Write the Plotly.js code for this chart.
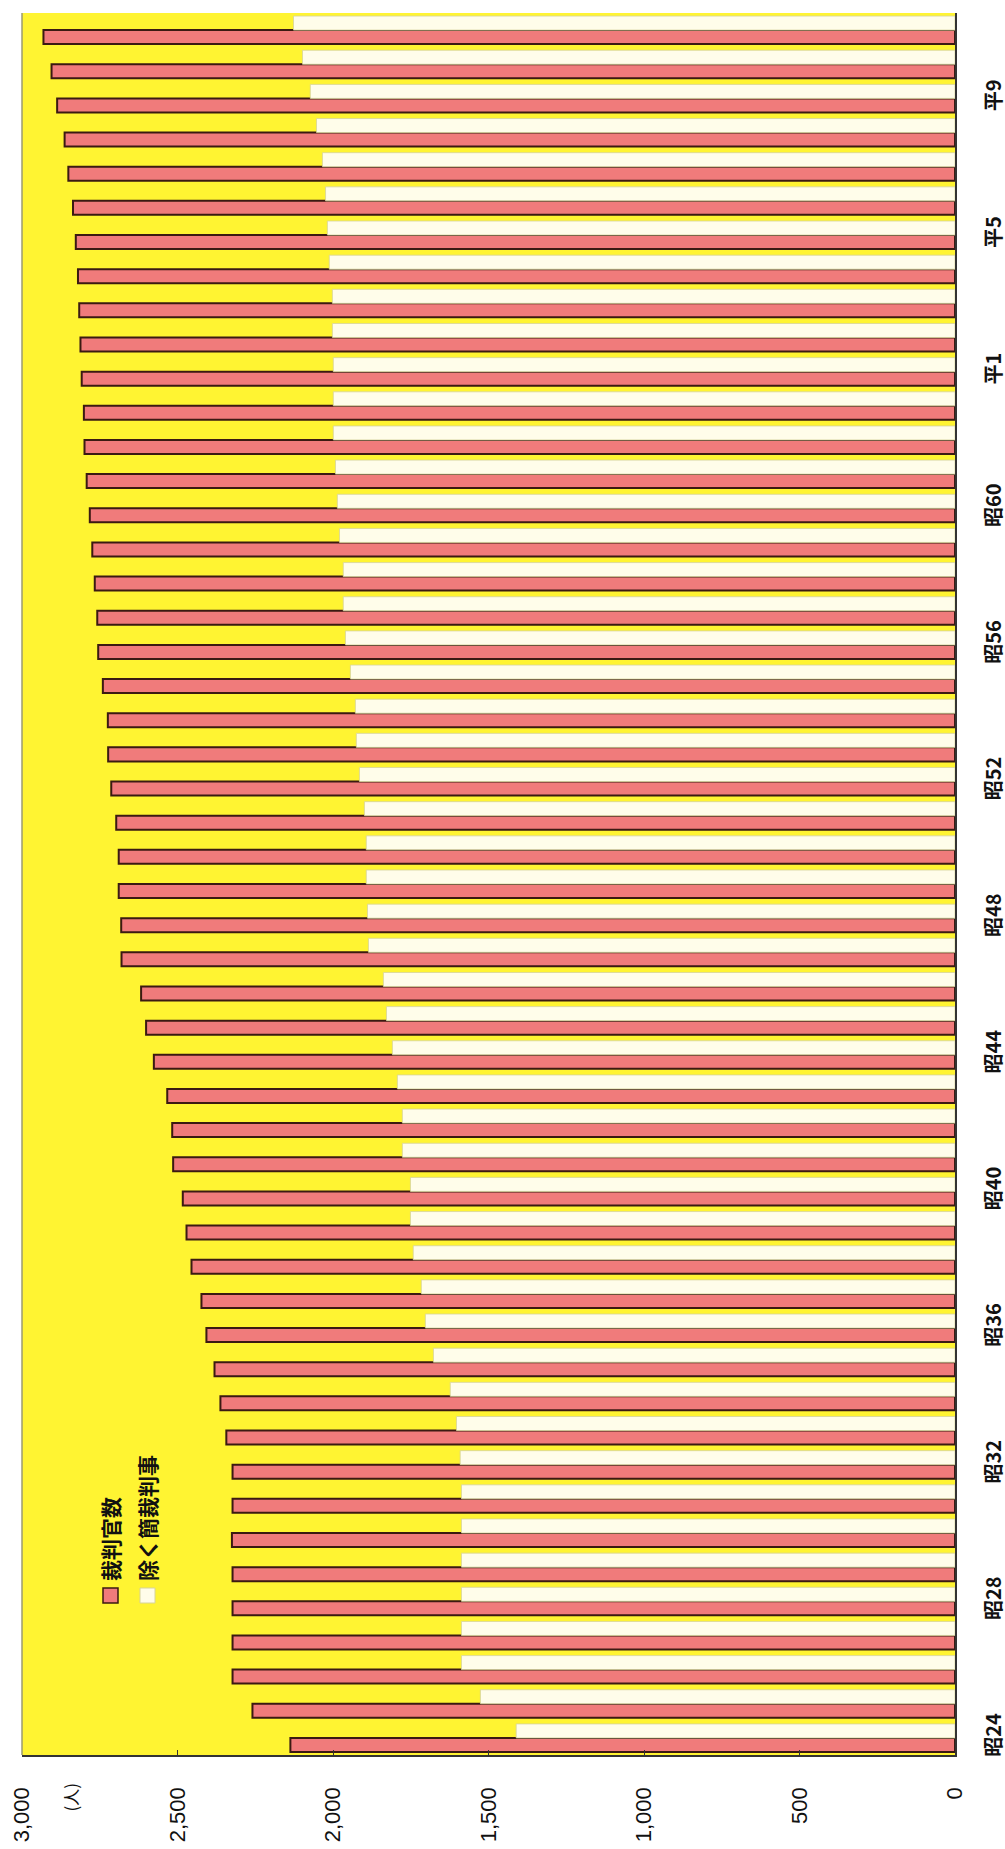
<!DOCTYPE html>
<html>
<head>
<meta charset="utf-8">
<script src="https://cdn.plot.ly/plotly-3.0.1.min.js"></script>
<style>html,body{margin:0;padding:0;background:#fff;}#chart{width:1005px;height:1849px;}</style>
</head>
<body>
<div id="chart"></div>
<script>
const categories = ['昭24','昭25','昭26','昭27','昭28','昭29','昭30','昭31','昭32','昭33','昭34','昭35','昭36','昭37','昭38','昭39','昭40','昭41','昭42','昭43','昭44','昭45','昭46','昭47','昭48','昭49','昭50','昭51','昭52','昭53','昭54','昭55','昭56','昭57','昭58','昭59','昭60','昭61','昭62','昭63','平1','平2','平3','平4','平5','平6','平7','平8','平9','平10','平11'];
const judgesTotal = [2137,2259,2323,2323,2323,2323,2325,2323,2323,2343,2362,2381,2407,2423,2455,2471,2483,2514,2517,2533,2576,2601,2617,2680,2681,2689,2689,2697,2713,2723,2724,2740,2755,2758,2766,2774,2782,2792,2799,2801,2808,2812,2816,2820,2827,2836,2851,2863,2887,2905,2931];
const judgesExclSummary = [1411,1526,1587,1587,1587,1587,1587,1587,1591,1603,1623,1677,1703,1716,1742,1751,1751,1777,1777,1793,1809,1828,1838,1886,1889,1893,1893,1899,1915,1925,1928,1944,1960,1967,1967,1979,1986,1992,1999,1999,1999,2002,2002,2012,2018,2024,2034,2053,2073,2098,2127];
const categoryTicks = ['昭24','昭28','昭32','昭36','昭40','昭44','昭48','昭52','昭56','昭60','平1','平5','平9'];
const valueTicks = [0,500,1000,1500,2000,2500,3000];
const seriesNames = ['裁判官数','除く簡裁判事'];
const unitLabel = '(人)';

const JP = '"Noto Sans CJK JP", "Noto Sans", sans-serif';
const traces = [
  {type:'bar', orientation:'h', name:seriesNames[0], y:categories, x:judgesTotal,
   marker:{color:'#f07b7b', line:{color:'#3b1a12', width:2}}},
  {type:'bar', orientation:'h', name:seriesNames[1], y:categories, x:judgesExclSummary,
   marker:{color:'#fffdea', line:{color:'#d6d39a', width:0.8}}}
];

const W=933, H=1742, L=22, T=13;
function px(x){return (x-L)/W;}
function py(y){return (T+H-y)/H;}

const layout = {
  width:1005, height:1849,
  margin:{l:L, r:50, t:T, b:94, pad:0},
  paper_bgcolor:'#ffffff',
  plot_bgcolor:'#fff432',
  barmode:'group', bargap:0.18, bargroupgap:0,
  showlegend:false,
  xaxis:{range:[3000,0], tickvals:valueTicks, tickformat:',d', tickangle:-90,
    ticks:'inside', ticklen:5, tickcolor:'#333', showgrid:false, zeroline:false,
    showline:true, linecolor:'#333', linewidth:1.5, ticklabelstandoff:22,
    tickfont:{family:'"Liberation Sans", Arial, sans-serif', size:22, color:'#111'}},
  yaxis:{type:'category', categoryorder:'array', categoryarray:categories, side:'right',
    tickvals:categoryTicks, ticktext:categoryTicks, tickangle:-90, ticks:'',
    showgrid:false, zeroline:false, showline:true, linecolor:'#333', linewidth:1.5,
    ticklabelstandoff:20,
    tickfont:{family:JP, size:20, color:'#111', weight:'bold'}},
  shapes:[
    {type:'rect', xref:'paper', yref:'paper', x0:0, x1:0, y0:0, y1:1, line:{color:'#9a9a70', width:1}},
    {type:'rect', xref:'paper', yref:'paper', x0:px(103), x1:px(118), y0:py(1603), y1:py(1588), fillcolor:'#f07b7b', line:{color:'#3b1a12', width:1.5}},
    {type:'rect', xref:'paper', yref:'paper', x0:px(140), x1:px(155), y0:py(1603), y1:py(1588), fillcolor:'#fffdea', line:{color:'#d6d39a', width:1}}
  ],
  annotations:[
    {xref:'paper', yref:'paper', x:px(110), y:py(1583), xanchor:'center', yanchor:'bottom', showarrow:false, textangle:-90,
     text:seriesNames[0], font:{family:JP, size:21, color:'#111', weight:'bold'}},
    {xref:'paper', yref:'paper', x:px(147), y:py(1583), xanchor:'center', yanchor:'bottom', showarrow:false, textangle:-90,
     text:seriesNames[1], font:{family:JP, size:21, color:'#111', weight:'bold'}},
    {xref:'paper', yref:'paper', x:px(70), y:py(1781), xanchor:'center', yanchor:'top', showarrow:false, textangle:-90,
     text:unitLabel, font:{family:JP, size:17, color:'#111'}}
  ]
};

Plotly.newPlot('chart', traces, layout, {staticPlot:true, displayModeBar:false});
</script>
</body>
</html>
